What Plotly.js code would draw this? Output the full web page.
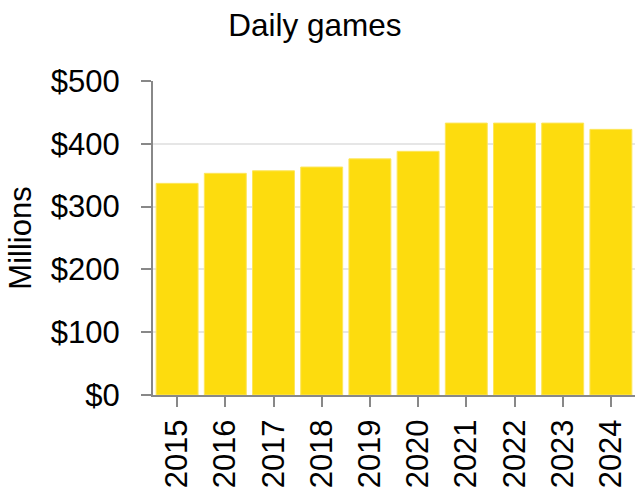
<!DOCTYPE html>
<html>
<head>
<meta charset="utf-8">
<script src="https://cdn.plot.ly/plotly-3.0.1.min.js"></script>
<style>html,body{margin:0;padding:0;background:#fff;}#chart{width:635px;height:494px;}</style>
</head>
<body>
<div id="chart"></div>
<script>
const years = ['2015','2016','2017','2018','2019','2020','2021','2022','2023','2024'];
const revenue = [337, 353, 357, 363, 376, 388, 433, 433, 433, 423];
const yTickVals = [0, 100, 200, 300, 400, 500];
const yTickText = ['$0', '$100', '$200', '$300', '$400', '$500'];

const font = 'Liberation Sans, Arial, sans-serif';
Plotly.newPlot('chart', [{
  type: 'bar',
  x: years,
  y: revenue,
  marker: {color: '#FDDC0E', line: {color: '#FDE65C', width: 1}},
  hoverinfo: 'skip'
}], {
  width: 635, height: 494,
  margin: {l: 153, r: 0, t: 81, b: 99},
  paper_bgcolor: '#fff', plot_bgcolor: '#fff',
  font: {family: font, color: '#000', size: 31},
  title: {text: 'Daily games', font: {family: font, size: 31.5, color: '#000'}, x: 0.496, xref: 'container', xanchor: 'center', y: 0.949, yref: 'container', yanchor: 'middle'},
  bargap: 0.13,
  showlegend: false,
  xaxis: {
    type: 'category',
    tickangle: -90,
    ticks: 'outside', ticklen: 10, tickwidth: 2, tickcolor: '#888',
    showline: true, linecolor: '#888', linewidth: 2,
    showgrid: false,
    tickfont: {family: font, size: 31, color: '#000'},
    fixedrange: true
  },
  yaxis: {
    range: [0, 500],
    tickvals: yTickVals, ticktext: yTickText,
    ticks: 'outside', ticklen: 10, tickwidth: 2, tickcolor: '#888',
    ticklabelstandoff: 15,
    showline: true, linecolor: '#888', linewidth: 2,
    showgrid: true, gridcolor: '#e6e6e6', gridwidth: 2,
    zeroline: false,
    tickfont: {family: font, size: 31, color: '#000'},
    title: {text: 'Millions', font: {family: font, size: 31, color: '#000'}, standoff: 10},
    fixedrange: true
  }
}, {staticPlot: true, displayModeBar: false});
</script>
</body>
</html>
